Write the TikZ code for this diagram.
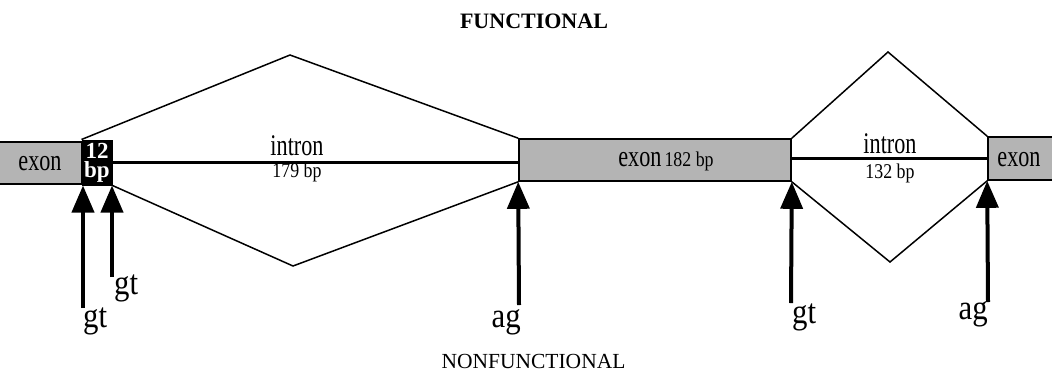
\documentclass[tikz,border=0pt]{standalone}
\usepackage{fontspec}
\setmainfont{Liberation Serif}
\newfontfamily\cnd[FakeStretch=0.74]{Liberation Serif}
\newfontfamily\cndb[FakeStretch=0.85]{Liberation Serif}
\newfontfamily\cnds[FakeStretch=0.88]{Liberation Serif}
\usetikzlibrary{arrows.meta}
\definecolor{exongray}{RGB}{180,180,180}
\tikzset{
  exonbox/.style={draw=black, line width=1.6pt, fill=exongray, inner sep=0pt},
  lbl/.style={inner sep=0pt, font=\cnd\fontsize{30}{32}\selectfont},
  bplbl/.style={inner sep=0pt, font=\cndb\fontsize{21}{23}\selectfont},
  sitelbl/.style={inner sep=0pt, font=\cnds\fontsize{35}{37}\selectfont},
  intronline/.style={line width=3.2pt},
  splice/.style={line width=1.5pt, line join=miter},
  arr/.style={line width=4pt, -{Triangle[width=22pt,length=27pt]}},
}
\begin{document}
\begin{tikzpicture}[x=1pt,y=-1pt]
\useasboundingbox (0,0) rectangle (1052,376);
% titles
\node[anchor=base, inner sep=0pt, font=\bfseries\fontsize{22}{24}\selectfont] (tf) at (534,28) {FUNCTIONAL};
\node[anchor=base, inner sep=0pt, font=\fontsize{21.5}{24}\selectfont] (tn) at (533.5,368) {NONFUNCTIONAL};
% exon boxes
\node[exonbox, minimum width=86pt, minimum height=42pt] (ex1) at (39,163) {};
\node[exonbox, minimum width=272pt, minimum height=42pt] (ex2) at (655,160) {};
\node[exonbox, minimum width=70pt, minimum height=43pt] (ex3) at (1023,158.5) {};
\node[draw=black, fill=black, line width=1pt, minimum width=30pt, minimum height=45pt, inner sep=0pt,
      text=white, align=center, font=\bfseries\fontsize{23}{19}\selectfont] (bb) at (97,162.5) {12\\bp};
% exon labels
\node[lbl, anchor=base] (t1) at (40,170) {exon};
\node[anchor=base, inner sep=0pt] (t2) at (666,166) {{\cnd\fontsize{30}{32}\selectfont exon}\hspace{3pt}{\cndb\fontsize{21}{23}\selectfont 182 bp}};
\node[lbl, anchor=base] (t3) at (1019,166) {exon};
% introns
\draw[intronline] (bb.east) -- (bb.east -| ex2.west);
\draw[intronline] (ex3.west -| ex2.east) -- (ex3.west);
\node[lbl, anchor=base] (i1) at (297,155) {intron};
\node[bplbl, anchor=base] (b1) at (297,177) {179 bp};
\node[lbl, anchor=base] (i2) at (890,153) {intron};
\node[bplbl, anchor=base] (b2) at (890,178) {132 bp};
% splice paths
\coordinate (p1) at (290,55);
\coordinate (p2) at (293,266);
\coordinate (p3) at (888,52);
\coordinate (p4) at (890,262);
\draw[splice] (bb.north west) -- (p1) -- (ex2.north west);
\draw[splice] (bb.south east) -- (p2) -- (ex2.south west);
\draw[splice] (ex2.north east) -- (p3) -- (ex3.north west);
\draw[splice] (ex2.south east) -- (p4) -- (ex3.south west);
% splice site arrows
\coordinate (a1) at (83,308);
\coordinate (a2) at (112,277);
\coordinate (a3) at (519,305);
\coordinate (a4) at (791,303);
\coordinate (a5) at (988,302);
\draw[arr] (a1) -- (a1 |- bb.south);
\draw[arr] (a2) -- (a2 |- bb.south);
\draw[arr] (a3) -- (ex2.south west);
\draw[arr] (a4) -- (ex2.south east);
\draw[arr] (a5) -- (ex3.south west);
\node[sitelbl, anchor=base west] (g1) at (83,327) {gt};
\node[sitelbl, anchor=base west] (g2) at (114,294) {gt};
\node[sitelbl, anchor=base east] (s1) at (521,327) {ag};
\node[sitelbl, anchor=base west] (g3) at (792,323) {gt};
\node[sitelbl, anchor=base east] (s2) at (988,319) {ag};
\end{tikzpicture}
\end{document}
